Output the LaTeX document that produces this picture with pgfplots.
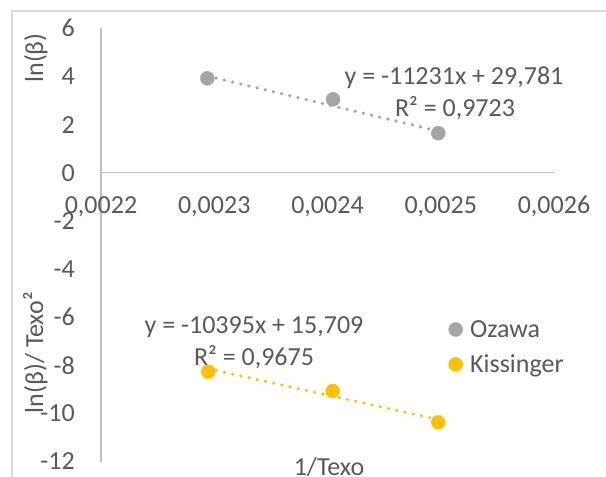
\documentclass[border=0pt]{standalone}
\usepackage{fontspec}
\setmainfont{Carlito}
\usepackage{pgfplots}
\pgfplotsset{compat=1.18}
\definecolor{txt}{HTML}{595959}
\definecolor{ozawa}{HTML}{A5A5A5}
\definecolor{kiss}{HTML}{FFC000}
\definecolor{axln}{HTML}{BFBFBF}
\definecolor{brd}{HTML}{D9D9D9}
\newcommand{\cf}{\fontsize{26bp}{31bp}\selectfont}
\begin{document}
\begin{tikzpicture}[font=\cf, text=txt]
\useasboundingbox (0,0) rectangle (606bp,477bp);
\draw[brd, line width=1.5bp] (12bp,-5bp) -- (12bp,466bp) -- (620bp,466bp);
\begin{axis}[
  scale only axis, width=453bp, height=433.2bp,
  at={(101bp,15.5bp)}, anchor=south west,
  xmin=0.0022, xmax=0.0026, ymin=-12, ymax=6,
  axis x line*=middle, axis y line*=left,
  scaled x ticks=false,
  xtick={0.0022,0.0023,0.0024,0.0025,0.0026},
  xticklabels={{0,0022},{0,0023},{0,0024},{0,0025},{0,0026}},
  ytick={-12,-10,-8,-6,-4,-2,0,2,4,6},
  yticklabels={-12,-10,-8,-6,-4,-2,0,2,4,6},
  major tick length=0pt,
  axis line style={axln, line width=1.2bp, -},
  hide obscured x ticks=false, hide obscured y ticks=false,
  tick label style={font=\cf, text=txt},
  xticklabel style={anchor=center, inner sep=0pt, yshift=-34bp},
  yticklabel style={anchor=east, inner sep=0pt, xshift=-26bp},
  clip=false,
  legend style={font=\cf, text=txt, draw=none, fill=none, inner sep=0pt,
    at={(axis cs:0.0025068,-7.25)}, anchor=west, row sep=16bp,
    nodes={inner sep=0pt}, column sep=7.5bp},
  legend cell align=left,
  legend image code/.code={\draw[#1] plot coordinates {(7bp,0bp)};},
]
\addplot[only marks, mark=*, mark size=7bp, color=ozawa] coordinates {
  (0.0022939,3.92) (0.0024049,3.05) (0.0024978,1.64)};
\addlegendentry{Ozawa}
\addplot[only marks, mark=*, mark size=7bp, color=kiss] coordinates {
  (0.0022947,-8.27) (0.0024046,-9.07) (0.0024978,-10.37)};
\addlegendentry{Kissinger}
\addplot[forget plot, ozawa, line width=3.5bp, line cap=round, dash pattern=on 0.1bp off 8.3bp] coordinates {
  (0.0022945,4.011) (0.0024978,1.728)};
\addplot[forget plot, kiss, line width=3.5bp, line cap=round, dash pattern=on 0.1bp off 8.3bp] coordinates {
  (0.0022945,-8.142) (0.0024978,-10.256)};
\node[anchor=base, font=\cf, text=txt] at (axis cs:0.0025117,3.644) {y = -11231x + 29,781};
\node[anchor=base, font=\cf, text=txt] at (axis cs:0.0025126,2.327) {R² = 0,9723};
\node[anchor=base, font=\cf, text=txt] at (axis cs:0.0023351,-6.672) {y = -10395x + 15,709};
\node[anchor=base, font=\cf, text=txt] at (axis cs:0.0023351,-8.031) {R² = 0,9675};
\end{axis}
\node[rotate=90, anchor=base] at (43bp,419bp) {ln(β)};
\node[rotate=90, anchor=base] at (43bp,124.5bp) {ln(β)/ Texo²};
\node[anchor=base] at (329bp,2bp) {1/Texo};
\end{tikzpicture}
\end{document}
